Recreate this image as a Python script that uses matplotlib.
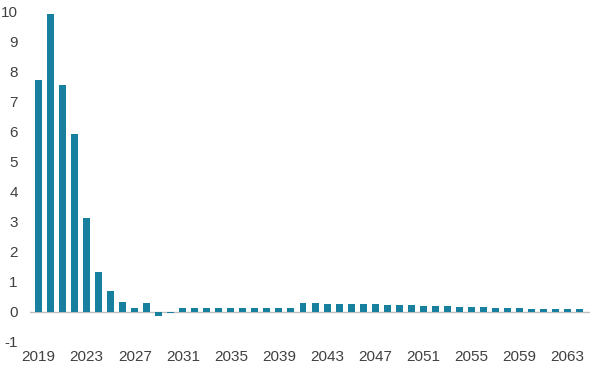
import matplotlib
matplotlib.use("Agg")
import matplotlib.pyplot as plt
import numpy as np

plt.rcParams['font.family'] = ['Liberation Sans', 'DejaVu Sans']

years = list(range(2019, 2065))
values = [7.73, 9.93, 7.58, 5.94, 3.12, 1.32, 0.70, 0.34, 0.14, 0.30,
          -0.15, -0.05, 0.13, 0.13, 0.12, 0.12, 0.12, 0.12, 0.12, 0.12,
          0.12, 0.12, 0.31, 0.31, 0.28, 0.28, 0.28, 0.28, 0.28, 0.23,
          0.23, 0.23, 0.20, 0.20, 0.20, 0.17, 0.17, 0.17, 0.13, 0.13,
          0.13, 0.10, 0.10, 0.10, 0.10, 0.10]
tick_years = years[::4]
y_ticks = list(range(-1, 11))

fig = plt.figure(figsize=(5.92, 3.74), dpi=100)
ax = fig.add_axes([0.051, 0.0856, 0.946, 0.8824])

x = np.arange(len(years))
ax.bar(x, values, width=0.58, color='#17809E', zorder=2)
ax.axhline(0, color='#BFBFBF', lw=1, zorder=1)

ax.set_xlim(-0.7, 45.9)
ax.set_ylim(-1, 10)
ax.set_yticks(y_ticks)
ax.set_yticklabels([str(v) for v in y_ticks])
ax.set_xticks([years.index(t) for t in tick_years])
ax.set_xticklabels([str(t) for t in tick_years])
ax.tick_params(axis='both', length=0, labelsize=11, colors='#404040')
ax.tick_params(axis='y', pad=9)
ax.tick_params(axis='x', pad=6)
for s in ax.spines.values():
    s.set_visible(False)

fig.savefig('out.png', dpi=100)
